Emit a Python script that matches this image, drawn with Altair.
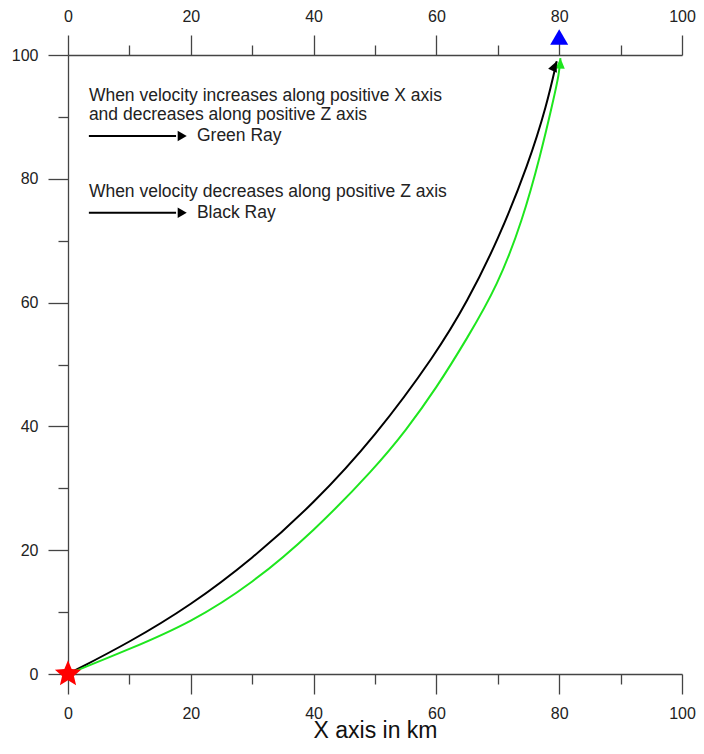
import math
import altair as alt
import pandas as pd

# ---- data ----
black_x = [0, 10, 20, 30, 40, 50, 60, 65, 70, 75, 78, 79.6]
black_y = [0, 5.1, 11.1, 18.6, 27.5, 38.3, 51.8, 60.1, 70.0, 82.4, 92.0, 99.0]

green_x = [0, 10, 20, 30, 40, 50, 55, 60, 65, 70, 74, 77, 79, 80, 80.2]
green_y = [0, 4.0, 8.3, 14.6, 23.0, 33.3, 39.3, 46.2, 54.2, 62.8, 73.2, 84.0, 92.5, 97.0, 99.5]

source_x, source_y = [0], [0]
receiver_x, receiver_y = [80], [102.9]

note_x = [3.4, 3.4, 21.0, 3.4, 21.0]
note_y = [93.4, 90.3, 86.9, 77.9, 74.5]
note_text = [
    "When velocity increases along positive X axis",
    "and decreases along positive Z axis",
    "Green Ray",
    "When velocity decreases along positive Z axis",
    "Black Ray",
]
arrow_x1 = [3.4, 3.4]
arrow_x2 = [17.6, 17.6]
arrow_y = [86.9, 74.5]
arrow_head_x = [18.6, 18.6]

tick_values = [0, 10, 20, 30, 40, 50, 60, 70, 80, 90, 100]

FONT = "Liberation Sans"

rays = pd.DataFrame(
    [{"x": x, "y": y, "ray": "Black", "i": i} for i, (x, y) in enumerate(zip(black_x, black_y))]
    + [{"x": x, "y": y, "ray": "Green", "i": i} for i, (x, y) in enumerate(zip(green_x, green_y))]
)

xscale = alt.Scale(domain=[0, 100], nice=False, zero=False)
yscale = alt.Scale(domain=[0, 100], nice=False, zero=False)
ray_color = alt.Scale(domain=["Black", "Green"], range=["#000000", "#1ee61e"])

major = "datum.value % 20 === 0"
common_axis = dict(
    values=tick_values,
    grid=False,
    tickSize={"condition": {"test": major, "value": 20}, "value": 10},
    labelExpr=f"{major} ? datum.label : ''",
    labelFont=FONT,
    labelFontSize=16,
    labelColor="#222222",
    tickColor="#444444",
    domainColor="#444444",
    tickWidth=1.3,
    domainWidth=1.3,
    labelFlush=False,
    labelOverlap=False,
)

bottom_axis = alt.Axis(orient="bottom", labelPadding=11, title="X axis in km",
                       titleFont=FONT, titleFontSize=23, titleFontWeight="normal",
                       titleColor="#111111", titleBaseline="alphabetic", titleY=63,
                       **common_axis)
top_axis = alt.Axis(orient="top", labelPadding=11, title=None, **common_axis)
left_axis = alt.Axis(orient="left", labelPadding=10, title=None, **common_axis)

y_enc = alt.Y("y:Q", scale=yscale, axis=left_axis)

lines = alt.Chart(rays).mark_line(strokeWidth=2, interpolate="basis").encode(
    x=alt.X("x:Q", scale=xscale, axis=bottom_axis),
    y=y_enc,
    color=alt.Color("ray:N", scale=ray_color, legend=None),
    order="i:Q",
    detail="ray:N",
)

# arrow heads at ray ends (tip at origin)
head_path = "M0,0L-0.9,2L0.9,2Z"
heads = pd.DataFrame({
    "x": [green_x[-1], black_x[-1]],
    "y": [green_y[-1], black_y[-1]],
    "ray": ["Green", "Black"],
    "ang": [2, 24],
})
ray_heads = alt.Chart(heads).mark_point(shape=head_path, filled=True, size=110, opacity=1, strokeWidth=0).encode(
    x=alt.X("x:Q", scale=xscale, axis=None),
    y=alt.Y("y:Q", scale=yscale, axis=left_axis),
    color=alt.Color("ray:N", scale=ray_color, legend=None),
    angle=alt.Angle("ang:Q", scale=None),
)

# red star source
pts = []
for k in range(10):
    r = 1.0 if k % 2 == 0 else 0.45
    a = math.radians(-90 + 36 * k)
    pts.append(f"{r*math.cos(a):.3f},{r*math.sin(a):.3f}")
star_path = "M" + "L".join(pts) + "Z"
src = alt.Chart(pd.DataFrame({"x": source_x, "y": source_y})).mark_point(
    shape=star_path, filled=True, color="#ff0000", size=760, opacity=1, clip=False, strokeWidth=0
).encode(x=alt.X("x:Q", scale=xscale, axis=None), y=alt.Y("y:Q", scale=yscale, axis=left_axis))

# blue triangle receiver (carries the top axis)
rec = alt.Chart(pd.DataFrame({"x": receiver_x, "y": receiver_y})).mark_point(
    shape="triangle-up", filled=True, color="#0000ff", size=324, opacity=1, clip=False, strokeWidth=0
).encode(x=alt.X("x:Q", scale=xscale, axis=top_axis), y=alt.Y("y:Q", scale=yscale, axis=left_axis))

notes = alt.Chart(pd.DataFrame({"x": note_x, "y": note_y, "t": note_text})).mark_text(
    align="left", baseline="middle", font=FONT, fontSize=17.5, color="#222222"
).encode(x=alt.X("x:Q", scale=xscale, axis=None), y=alt.Y("y:Q", scale=yscale, axis=left_axis), text="t:N")

arrows = alt.Chart(pd.DataFrame({"x": arrow_x1, "x2": arrow_x2, "y": arrow_y})).mark_rule(
    color="#000000", strokeWidth=2
).encode(x=alt.X("x:Q", scale=xscale, axis=None), x2="x2:Q", y=alt.Y("y:Q", scale=yscale, axis=left_axis))

arrow_heads = alt.Chart(pd.DataFrame({"x": arrow_head_x, "y": arrow_y})).mark_point(
    shape="triangle-right", filled=True, color="#000000", size=110, opacity=1, strokeWidth=0
).encode(x=alt.X("x:Q", scale=xscale, axis=None), y=alt.Y("y:Q", scale=yscale, axis=left_axis))

chart = alt.layer(lines, ray_heads, arrows, arrow_heads, notes, src, rec).resolve_axis(
    x="independent"
).properties(
    width=614,
    height=619,
    padding={"left": 60, "top": 47, "right": 14, "bottom": 69},
    autosize=alt.AutoSizeParams(type="none"),
    background="white",
).configure_view(stroke=None)

chart.save("out.html", embed_options={"renderer": "svg", "actions": False})
